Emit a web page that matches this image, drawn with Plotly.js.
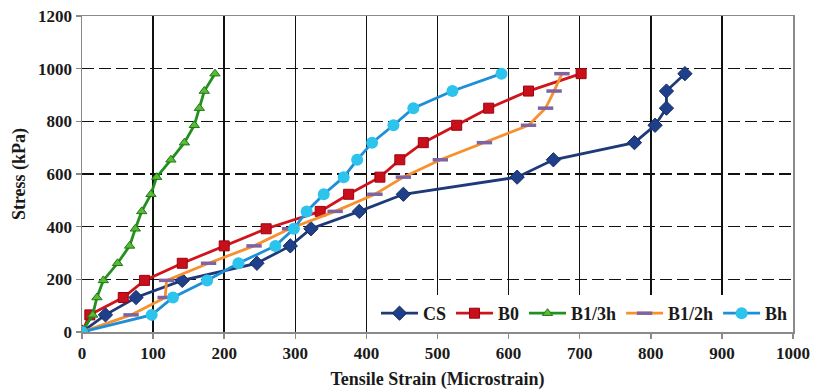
<!DOCTYPE html>
<html>
<head>
<meta charset="utf-8">
<script src="https://cdn.plot.ly/plotly-3.0.1.min.js"></script>
<style>html,body{margin:0;padding:0;background:#fff;}#chart{width:814px;height:392px;}</style>
</head>
<body>
<div id="chart"></div>
<script>
const seriesNames = ["CS", "B0", "B1/3h", "B1/2h", "Bh"];
const stress = [0, 65, 131, 196, 261, 327, 392, 458, 523, 588, 654, 719, 785, 850, 915, 981];
const strainCS = [0, 33, 76, 141, 246, 293, 322, 390, 452, 612, 663, 777, 806, 822, 822, 848];
const strainB0 = [0, 11, 58, 88, 141, 200, 259, 335, 375, 419, 447, 480, 527, 572, 628, 702];
const strainB13h = [0, 15, 21, 30, 50, 67, 75, 84, 97, 105, 125, 144, 158, 165, 172, 187];
const strainB12h = [0, 69, 117, 119, 178, 242, 292, 356, 412, 452, 504, 566, 628, 652, 664, 675];
const strainBh = [0, 98, 128, 176, 220, 272, 298, 316, 340, 368, 387, 408, 438, 466, 521, 590];
const xTicks = [0, 100, 200, 300, 400, 500, 600, 700, 800, 900, 1000];
const yTicks = [0, 200, 400, 600, 800, 1000, 1200];

const serif = "Liberation Serif, Times New Roman, serif";
const traces = [
  {x: strainCS, y: stress, name: seriesNames[0], mode: "lines+markers",
   line: {color: "#1f3a78", width: 2.8},
   marker: {symbol: "diamond", size: 11, color: "#1f3f8a", line: {color: "#162c60", width: 1}}},
  {x: strainB0, y: stress, name: seriesNames[1], mode: "lines+markers",
   line: {color: "#d0141c", width: 2.8},
   marker: {symbol: "square", size: 10, color: "#c8101a", line: {color: "#a00010", width: 1}}},
  {x: strainB13h, y: stress, name: seriesNames[2], mode: "lines+markers",
   line: {color: "#22901e", width: 2.8},
   marker: {symbol: "triangle-up", size: 9, color: "#5db832", line: {color: "#1d7a1a", width: 1}}},
  {x: strainB12h, y: stress, name: seriesNames[3], mode: "lines+markers",
   line: {color: "#f7902e", width: 2.8},
   marker: {symbol: "line-ew", size: 11, color: "#8064a2", line: {color: "#8064a2", width: 3.5}}},
  {x: strainBh, y: stress, name: seriesNames[4], mode: "lines+markers",
   line: {color: "#1e8fd6", width: 2.8},
   marker: {symbol: "circle", size: 12, color: "#2cc3ec", line: {color: "#2cc3ec", width: 0}}}
];

const layout = {
  width: 814, height: 392,
  margin: {l: 82, r: 21, t: 16, b: 60},
  paper_bgcolor: "#ffffff", plot_bgcolor: "#ffffff",
  font: {family: serif, color: "#1a1a1a", size: 17, weight: "bold"},
  showlegend: true,
  legend: {orientation: "h", x: 1, xanchor: "right", y: 0, yanchor: "bottom",
           bgcolor: "#ffffff", borderwidth: 0,
           font: {family: serif, size: 18, weight: "bold", color: "#1a1a1a"},
           itemwidth: 37, tracegroupgap: 0},
  xaxis: {range: [0, 1000], tickvals: xTicks, ticktext: xTicks.map(String),
          showgrid: true, gridcolor: "#111111", gridwidth: 1.5,
          showline: true, linecolor: "#8a8a8a", linewidth: 1.5, mirror: true,
          ticks: "outside", ticklen: 5, tickcolor: "#8a8a8a", tickwidth: 1.5,
          zeroline: false,
          tickfont: {family: serif, size: 17, weight: "bold", color: "#1a1a1a"},
          title: {text: "Tensile Strain (Microstrain)", standoff: 10,
                  font: {family: serif, size: 18, weight: "bold", color: "#1a1a1a"}}},
  yaxis: {range: [0, 1200], tickvals: yTicks, ticktext: yTicks.map(String),
          showgrid: true, gridcolor: "#111111", gridwidth: 1.6, griddash: "12px,5px",
          showline: true, linecolor: "#8a8a8a", linewidth: 1.5, mirror: true,
          ticks: "outside", ticklen: 5, tickcolor: "#8a8a8a", tickwidth: 1.5,
          zeroline: false,
          tickfont: {family: serif, size: 17, weight: "bold", color: "#1a1a1a"},
          title: {text: "Stress (kPa)", standoff: 8,
                  font: {family: serif, size: 18, weight: "bold", color: "#1a1a1a"}}}
};

Plotly.newPlot("chart", traces, layout, {displayModeBar: false, staticPlot: true});
</script>
</body>
</html>
